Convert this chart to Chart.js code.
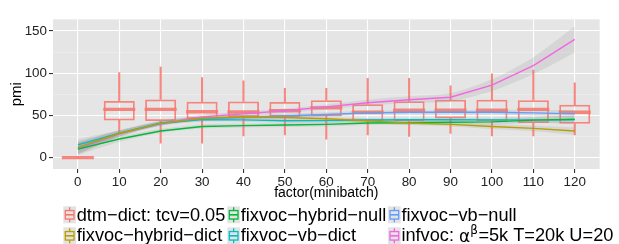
<!DOCTYPE html>
<html><head><meta charset="utf-8">
<script src="https://cdn.jsdelivr.net/npm/chart.js@4.4.1/dist/chart.umd.min.js"></script>
<style>html,body{margin:0;padding:0;background:#fff;}canvas{display:block;}</style>
</head><body>
<canvas id="c" width="619" height="244"></canvas>
<script>
// ---- categories / ticks ----
const xCats = [0, 10, 20, 30, 40, 50, 60, 70, 80, 90, 100, 110, 120];
const xTickLabels = ['0','10','20','30','40','50','60','70','80','90','100','110','120'];
const yTickValues = [0, 50, 100, 150];
const yMinorValues = [25, 75, 125];

// ---- boxplot: dtm-dict: tcv=0.05 ----
const boxLow  = [0, 30, 17, 17, 25.7, 26.8, 21.8, 26.8, 25, 28.6, 25.7, 25.7, 26.8];
const boxQ1   = [0, 44, 43.2, 45.5, 48, 48.2, 48.9, 42.9, 42.9, 46.4, 42.9, 41, 40];
const boxMed  = [0, 57.1, 57.1, 54.3, 54, 55.4, 58.9, 53.6, 56.1, 56.1, 56.1, 57.1, 53.6];
const boxQ3   = [0, 67, 68.9, 66.1, 66.5, 65.9, 67.9, 63.2, 66.8, 68.6, 68.6, 67.9, 62.5];
const boxHigh = [0, 100.5, 107.1, 94.6, 91, 82.1, 82.1, 93.9, 93.9, 85, 99.3, 103.6, 88.6];

// ---- smoothed series (value, band half-width) ----
const hybridDict   = [12, 28.5, 40.5, 46.5, 48, 47.5, 46, 43.5, 41, 39.3, 36.8, 34.6, 31.4];
const seHybridDict = [7, 3.5, 2.5, 2.5, 2.5, 2.5, 2.5, 2.5, 2.5, 2.5, 3, 3.5, 4.5];
const hybridNull   = [10, 22, 31.5, 36.8, 37.8, 38.6, 39.3, 41, 41.3, 41.8, 42.3, 44.3, 45.4];
const seHybridNull = [7, 3.5, 2.5, 2.5, 2.5, 2.5, 2.5, 2.5, 2.5, 2.5, 3, 3.5, 4.5];
const vbDict       = [15, 29, 41, 45, 44.6, 43.6, 43.8, 44.5, 44.8, 44.8, 44.6, 44.6, 44.6];
const seVbDict     = [7, 3.5, 2.5, 2.5, 2.5, 2.5, 2.5, 2.5, 2.5, 2.5, 3, 3.5, 4.5];
const vbNull       = [11.5, 28.6, 40, 45.5, 47.5, 49.3, 51.1, 53, 53.6, 53.6, 53.6, 52.9, 51.8];
const seVbNull     = [7, 3.5, 2.5, 2.5, 2.5, 2.5, 2.5, 2.5, 2.5, 2.5, 3, 3.5, 4.5];
const infvoc       = [10.5, 28, 40.5, 48.2, 51.8, 55.5, 60, 65, 68.5, 71.4, 85.7, 108.9, 140];
const seInfvoc     = [7, 3.5, 2.5, 2.5, 2.5, 2.5, 3, 3.5, 4, 5, 7, 10, 15.5];

const seriesNames = ['dtm\u2212dict: tcv=0.05', 'fixvoc\u2212hybrid\u2212dict', 'fixvoc\u2212hybrid\u2212null',
                     'fixvoc\u2212vb\u2212dict', 'fixvoc\u2212vb\u2212null', 'infvoc: \u03b1\u03b2=5k T=20k U=20'];
const seriesColors = ['#F8766D', '#B79F00', '#00BA38', '#00BFC4', '#619CFF', '#F564E3'];

const FONT = '"Liberation Sans", Arial, Helvetica, sans-serif';
const boxLine = 'rgba(248,118,109,0.88)';
const bandFill = 'rgba(150,150,150,0.2)';

const pts = ys => xCats.map((x, i) => ({x, y: ys[i]}));
const rng = (a, b) => xCats.map((x, i) => ({x, y: [a[i], b[i]]}));
const add = (a, b, s) => a.map((v, i) => v + s * b[i]);

const datasets = [
  {type: 'bar', label: seriesNames[0], data: rng(boxQ1, boxQ3), backgroundColor: 'rgba(0,0,0,0)',
   borderColor: boxLine, borderWidth: 1.8, borderSkipped: false, grouped: false,
   categoryPercentage: 0.75, barPercentage: 1, order: 30},
  {type: 'bar', label: 'whiskerLow', data: rng(boxLow, boxQ1), backgroundColor: boxLine, borderWidth: 0,
   barThickness: 1.4, grouped: false, order: 31},
  {type: 'bar', label: 'whiskerHigh', data: rng(boxQ3, boxHigh), backgroundColor: boxLine, borderWidth: 0,
   barThickness: 1.4, grouped: false, order: 31},
  {type: 'line', label: 'median', data: pts(boxMed), showLine: false, pointStyle: 'line', pointRadius: 16,
   pointHoverRadius: 16, pointBorderWidth: 3.4, pointBorderColor: boxLine, pointBackgroundColor: boxLine, order: 29}
];

const series = [
  [hybridDict, seHybridDict, 1], [hybridNull, seHybridNull, 2], [vbDict, seVbDict, 3],
  [vbNull, seVbNull, 4], [infvoc, seInfvoc, 5]
];
series.forEach(([ys, se, k]) => {
  datasets.push({type: 'line', label: 'up' + k, data: pts(add(ys, se, 1)), borderWidth: 0, pointRadius: 0,
    fill: false, tension: 0.3, order: 20});
  datasets.push({type: 'line', label: 'lo' + k, data: pts(add(ys, se, -1)), borderWidth: 0, pointRadius: 0,
    fill: '-1', backgroundColor: bandFill, tension: 0.3, order: 20});
});
series.forEach(([ys, se, k]) => {
  datasets.push({type: 'line', label: seriesNames[k], data: pts(ys), borderColor: seriesColors[k],
    borderWidth: 1.4, pointRadius: 0, fill: false, tension: 0, order: 10});
});

const panelBg = {
  id: 'panelBg',
  beforeDraw(chart) {
    const {ctx, chartArea: a} = chart;
    ctx.save(); ctx.fillStyle = '#E5E5E5';
    ctx.fillRect(a.left, a.top, a.right - a.left, a.bottom - a.top);
    ctx.restore();
  }
};

function drawKey(ctx, x, y, color) {
  const w = 12.7, h = 17;
  ctx.fillStyle = '#E3E3E3'; ctx.fillRect(x, y, w, h);
  ctx.strokeStyle = color; ctx.lineWidth = 1.3;
  const cx = x + w / 2;
  ctx.beginPath();
  ctx.moveTo(cx, y + 1); ctx.lineTo(cx, y + h * 0.25);
  ctx.moveTo(cx, y + h * 0.75); ctx.lineTo(cx, y + h - 1);
  ctx.stroke();
  ctx.strokeRect(x + 2, y + h * 0.25, w - 4, h * 0.5);
  ctx.lineWidth = 1.6;
  ctx.beginPath(); ctx.moveTo(x + 2, y + h / 2); ctx.lineTo(x + w - 2, y + h / 2); ctx.stroke();
}

const customLegend = {
  id: 'customLegend',
  afterDraw(chart) {
    const ctx = chart.ctx;
    const colX = [63.3, 227.3, 388];
    const keyY = [206.3, 227.3];
    const baseY = [221.3, 240.7];
    ctx.save();
    seriesNames.forEach((name, i) => {
      const col = Math.floor(i / 2), row = i % 2;
      drawKey(ctx, colX[col], keyY[row], seriesColors[i]);
      ctx.fillStyle = '#000';
      ctx.textBaseline = 'alphabetic';
      ctx.textAlign = 'left';
      let tx = colX[col] + 13.4;
      const by = baseY[row];
      ctx.font = '18.2px ' + FONT;
      const ai = name.indexOf('\u03b1');
      if (ai < 0) {
        ctx.fillText(name, tx, by);
      } else {
        const pre = name.slice(0, ai), alpha = '\u03b1', beta = name[ai + 1], post = name.slice(ai + 2);
        ctx.fillText(pre, tx, by); tx += ctx.measureText(pre).width;
        ctx.font = '17px "DejaVu Sans", sans-serif';
        ctx.fillText(alpha, tx, by + 1); tx += ctx.measureText(alpha).width;
        ctx.font = '12px "DejaVu Sans", sans-serif';
        ctx.fillText(beta, tx, by - 7); tx += ctx.measureText(beta).width + 0.5;
        ctx.font = '18.2px ' + FONT;
        ctx.fillText(post, tx, by);
      }
    });
    ctx.restore();
  }
};

new Chart(document.getElementById('c'), {
  type: 'line',
  data: {datasets},
  plugins: [panelBg, customLegend],
  options: {
    responsive: false, animation: false, devicePixelRatio: 1,
    layout: {padding: {left: 0, right: 2, top: 4, bottom: 40}},
    plugins: {legend: {display: false}, tooltip: {enabled: false}},
    scales: {
      x: {
        type: 'linear', min: -6, max: 126, offset: false,
        afterBuildTicks: s => { s.ticks = xCats.map(v => ({value: v})); },
        afterFit: s => { s.height = 35; s.paddingLeft = 0; s.paddingRight = 0; },
        ticks: {callback: v => xTickLabels[xCats.indexOf(v)], autoSkip: false, maxRotation: 0,
                font: {family: FONT, size: 13.4}, color: '#222', padding: 1},
        grid: {color: '#FFFFFF', lineWidth: 1.1, tickLength: 4, tickColor: '#333', offset: false},
        border: {display: false},
        title: {display: true, text: 'factor(minibatch)', color: '#000', font: {family: FONT, size: 14},
                padding: {top: 0, bottom: 2}}
      },
      y: {
        type: 'linear', min: -13.5, max: 163.6,
        afterBuildTicks: s => { s.ticks = [...yTickValues, ...yMinorValues].sort((a, b) => a - b).map(v => ({value: v})); },
        afterFit: s => { s.width = 53; s.paddingTop = 0; s.paddingBottom = 0; },
        ticks: {callback: v => yTickValues.includes(v) ? String(v) : '', autoSkip: false,
                font: {family: FONT, size: 13.4}, color: '#222', padding: 2},
        grid: {
          color: c => yTickValues.includes(c.tick.value) ? '#FFFFFF' : '#F2F2F2',
          lineWidth: c => yTickValues.includes(c.tick.value) ? 1.1 : 0.55,
          tickLength: 4,
          tickColor: c => yTickValues.includes(c.tick.value) ? '#333' : 'rgba(0,0,0,0)'
        },
        border: {display: false},
        title: {display: true, text: 'pmi', color: '#000', font: {family: FONT, size: 15},
                padding: {top: 8, bottom: 0}}
      }
    }
  }
});
</script>
</body></html>
